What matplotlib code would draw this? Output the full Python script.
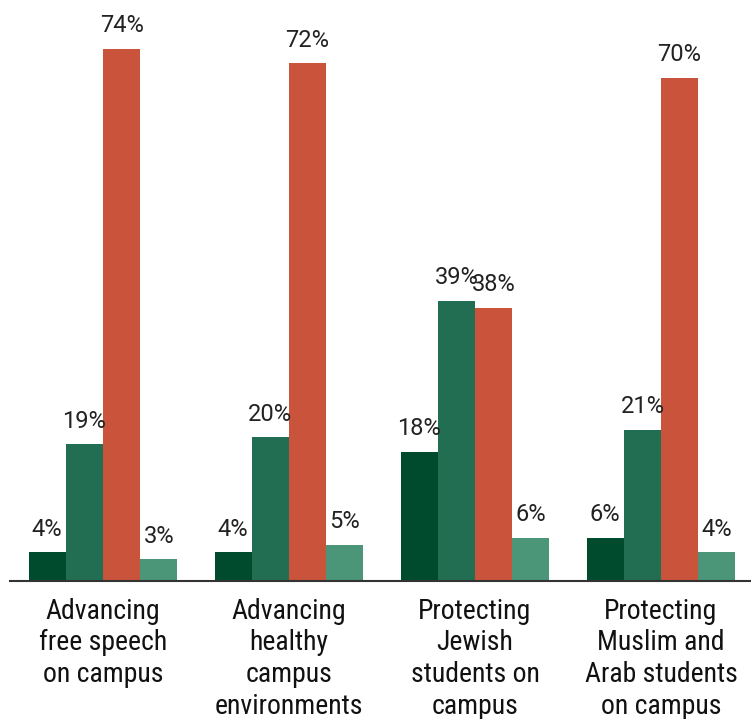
import numpy as np
import matplotlib
matplotlib.use("Agg")
import matplotlib.pyplot as plt
from matplotlib import font_manager

plt.rcParams["font.family"] = ["Roboto", "DejaVu Sans"]

# narrow face for the category labels, if one is installed
names = {f.name for f in font_manager.fontManager.ttflist}
LABEL_FONT = "Roboto"
for cand in ["Roboto Condensed", "Liberation Sans Narrow", "DejaVu Sans Condensed"]:
    if cand in names:
        LABEL_FONT = cand
        break

CATEGORIES = [
    "Advancing\nfree speech\non campus",
    "Advancing\nhealthy\ncampus\nenvironments",
    "Protecting\nJewish\nstudents on\ncampus",
    "Protecting\nMuslim and\nArab students\non campus",
]
SERIES_A = [4, 4, 18, 6]
SERIES_B = [19, 20, 39, 21]
SERIES_C = [74, 72, 38, 70]
SERIES_D = [3, 5, 6, 4]
COLORS = ["#004a2e", "#216e52", "#c9533b", "#4b9679"]

fig = plt.figure(figsize=(7.51, 7.19), dpi=100)
ax = fig.add_axes([10 / 751, (719 - 581) / 719, 1 - 10 / 751, 581 / 719])

x = np.arange(len(CATEGORIES))
w = 0.2
for i, (vals, col) in enumerate(zip([SERIES_A, SERIES_B, SERIES_C, SERIES_D], COLORS)):
    pos = x + (i - 1.5) * w
    ax.bar(pos, vals, width=w, color=col, edgecolor="none")
    for px, v in zip(pos, vals):
        ax.annotate(f"{v}%", (px, v), xytext=(0, 12), textcoords="offset points",
                    ha="center", va="baseline", fontsize=17, color="#222222")

ax.set_xlim(-0.5, 3.484)
ax.set_ylim(0, 80.8)
ax.set_xticks(x)
ax.set_xticklabels(CATEGORIES, fontsize=20, color="#111111", linespacing=1.22,
                   family=[LABEL_FONT, "Roboto", "DejaVu Sans"])
ax.tick_params(axis="x", length=0, pad=12)
ax.set_yticks([])
for side in ["top", "right", "left"]:
    ax.spines[side].set_visible(False)
ax.spines["bottom"].set_color("#333333")
ax.spines["bottom"].set_linewidth(1.5)

fig.savefig("out.png", dpi=100)
